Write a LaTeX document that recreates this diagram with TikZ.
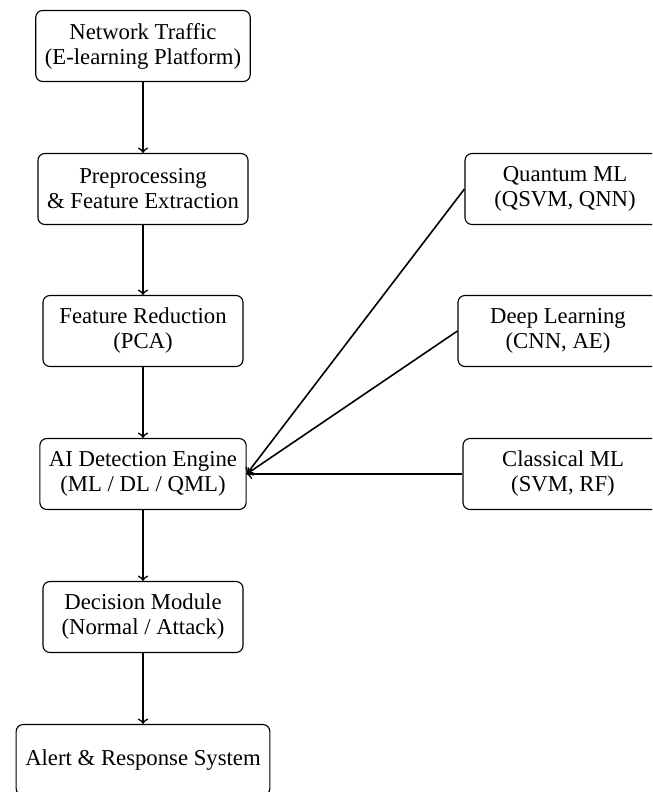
\documentclass[tikz,border=0pt]{standalone}
\usepackage{fontspec}
\setmainfont{Liberation Serif}
\begin{document}
\begin{tikzpicture}[x=0.44pt,y=-0.44pt,
  box/.style={draw, line width=0.5pt, rounded corners=3pt, align=center, inner xsep=4pt,
    minimum width=88pt, minimum height=31.2pt, font=\fontsize{10}{11}\selectfont},
  arr/.style={->, line width=0.7pt}]
\path[use as bounding box, clip] (0,0) rectangle (652,792);
\node[box] (nt) at (143,46) {Network Traffic\\(E-learning Platform)};
\node[box] (pp) at (143,189) {Preprocessing\\\& Feature Extraction};
\node[box] (fr) at (143,331) {Feature Reduction\\(PCA)};
\node[box] (ai) at (143,474) {AI Detection Engine\\(ML / DL / QML)};
\node[box] (dm) at (143,617) {Decision Module\\(Normal / Attack)};
\node[box] (al) at (143,760) {Alert \& Response System};
\node[box] (qm) at (565,189) {Quantum ML\\(QSVM, QNN)};
\node[box] (dl) at (558,331) {Deep Learning\\(CNN, AE)};
\node[box] (cm) at (563,474) {Classical ML\\(SVM, RF)};
\draw[arr] (nt) -- (pp);
\draw[arr] (pp) -- (fr);
\draw[arr] (fr) -- (ai);
\draw[arr] (ai) -- (dm);
\draw[arr] (dm) -- (al);
\draw[arr] (qm.west) -- (ai.east);
\draw[arr] (dl.west) -- (ai.east);
\draw[arr] (cm.west) -- (ai.east);
\end{tikzpicture}
\end{document}
